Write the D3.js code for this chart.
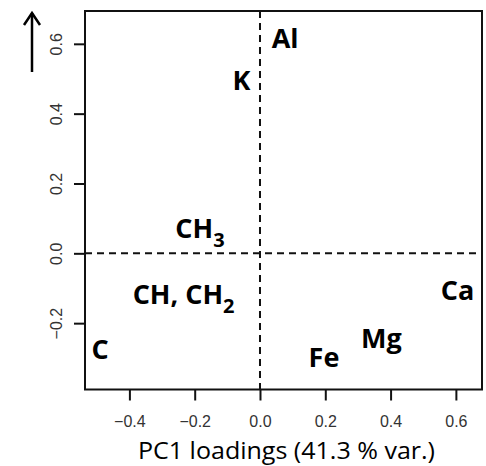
<!DOCTYPE html>
<html>
<head>
<meta charset="utf-8">
<script src="https://cdn.jsdelivr.net/npm/d3@7"></script>
<style>
  body { margin: 0; background: #fff; }
  svg { display: block; }
</style>
</head>
<body>
<svg class="loadings"></svg>
<script>
// loadings (label centre x, text baseline y)
var names = ["Al", "K", "CH", "CH, CH", "C", "Ca", "Mg", "Fe"];
var subs  = ["", "", "3", "2", "", "", "", ""];
var pc1   = [0.077, -0.057, -0.184, -0.234, -0.490, 0.605, 0.372, 0.196];
var pc2   = [0.588, 0.468, 0.044, -0.145, -0.303, -0.134, -0.271, -0.326];

var xTicks = [-0.4, -0.2, 0.0, 0.2, 0.4, 0.6];
var yTicks = [-0.2, 0.0, 0.2, 0.4, 0.6];
var xTitle = "PC1 loadings (41.3 % var.)";

var W = 486, H = 466;
var margin = {top: 11, right: 4, bottom: 76.5, left: 85},
    width  = W - margin.left - margin.right,
    height = H - margin.top - margin.bottom;

var svg = d3.select("svg.loadings")
  .attr("width", W)
  .attr("height", H);

var g = svg.append("g")
  .attr("transform", `translate(${margin.left},${margin.top})`);

var x = d3.scaleLinear().domain([-0.536, 0.680]).range([0, width]);
var y = d3.scaleLinear().domain([-0.390, 0.694]).range([height, 0]);

var fmt = d => d3.format(".1f")(d).replace("-", "\u2212");

var xAxis = d3.axisBottom(x).tickValues(xTicks).tickFormat(fmt)
  .tickSize(11).tickSizeOuter(0).tickPadding(15);
var yAxis = d3.axisLeft(y).tickValues(yTicks).tickFormat(fmt)
  .tickSize(11).tickSizeOuter(0).tickPadding(10);

var gx = g.append("g")
  .attr("transform", `translate(0,${height})`)
  .call(xAxis);
var gy = g.append("g").call(yAxis);

[gx, gy].forEach(function(a) {
  a.select(".domain").remove();
  a.selectAll(".tick line").attr("stroke", "#111").attr("stroke-width", 2);
  a.selectAll(".tick text")
    .attr("fill", "#333")
    .style("font-family", "'Liberation Sans', Arial, sans-serif")
    .style("font-size", "16px");
});

// y tick labels rotated like base R
gy.selectAll(".tick text")
  .attr("x", null).attr("dy", null)
  .attr("text-anchor", "middle")
  .attr("transform", "translate(-23,0) rotate(-90)");

// dashed zero lines
g.append("line")
  .attr("x1", x(0)).attr("x2", x(0))
  .attr("y1", 0).attr("y2", height)
  .attr("stroke", "#111").attr("stroke-width", 2)
  .attr("stroke-dasharray", "7,5");
g.append("line")
  .attr("x1", 0).attr("x2", width)
  .attr("y1", y(0)).attr("y2", y(0))
  .attr("stroke", "#111").attr("stroke-width", 2)
  .attr("stroke-dasharray", "7,5");

// plot box
g.append("rect")
  .attr("width", width).attr("height", height)
  .attr("fill", "none")
  .attr("stroke", "#111").attr("stroke-width", 2);

// variable labels
var lab = g.selectAll("text.lab")
  .data(names)
  .join("text")
    .attr("class", "lab")
    .attr("x", (d, i) => x(pc1[i]))
    .attr("y", (d, i) => y(pc2[i]))
    .attr("text-anchor", "middle")
    .style("font-family", "'Open Sans', sans-serif")
    .style("font-weight", "bold")
    .style("font-size", "27px")
    .attr("fill", "#000");

lab.append("tspan").text(d => d);
lab.filter((d, i) => subs[i] !== "")
  .append("tspan")
    .attr("dy", 9)
    .style("font-size", "20px")
    .text(d => subs[names.indexOf(d)]);

// axis title
svg.append("text")
  .attr("x", 286.5)
  .attr("y", 459)
  .attr("text-anchor", "middle")
  .attr("textLength", 297)
  .attr("lengthAdjust", "spacingAndGlyphs")
  .style("font-family", "'Open Sans', sans-serif")
  .style("font-size", "24px")
  .attr("fill", "#000")
  .text(xTitle);

// arrow beside the y axis
var arrow = svg.append("g")
  .attr("stroke", "#000").attr("stroke-width", 2.5)
  .attr("fill", "none").attr("stroke-linecap", "butt");
arrow.append("line").attr("x1", 32).attr("x2", 32).attr("y1", 72).attr("y2", 13);
arrow.append("path").attr("d", "M24,25 L32,13 L40,25");
</script>
</body>
</html>
